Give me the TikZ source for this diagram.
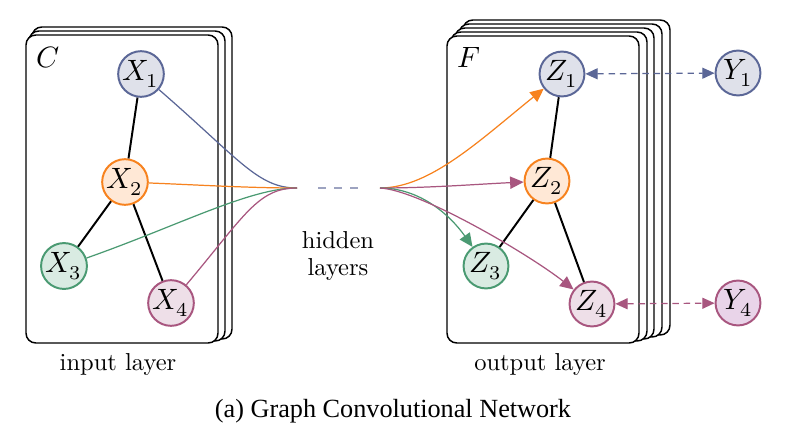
\documentclass[tikz,border=0pt]{standalone}
\usepackage{fontspec}
\usepackage{unicode-math}
\newfontfamily\capfont{Liberation Serif}
\usetikzlibrary{arrows.meta}
\definecolor{cblue}{HTML}{5B6797}
\definecolor{fblue}{HTML}{DFE1EA}
\definecolor{corange}{HTML}{F7821E}
\definecolor{forange}{HTML}{FFE8D6}
\definecolor{cgreen}{HTML}{4A9A72}
\definecolor{fgreen}{HTML}{D9EBE2}
\definecolor{cmag}{HTML}{A8567F}
\definecolor{fmag}{HTML}{EEDFE8}
\definecolor{fmagy}{HTML}{E9D4E9}
\definecolor{cdash}{HTML}{9DA3C0}
\begin{document}
\begin{tikzpicture}[x=0.408pt,y=-0.408pt,
  vnode/.style={circle,minimum size=18.3pt,inner sep=0pt,line width=0.8pt,font=\large},
  nblue/.style={vnode,draw=cblue,fill=fblue},
  norange/.style={vnode,draw=corange,fill=forange},
  ngreen/.style={vnode,draw=cgreen,fill=fgreen},
  nmag/.style={vnode,draw=cmag,fill=fmag},
  layerbox/.style={draw=black,fill=white,rounded corners=4pt,line width=0.6pt},
  graphedge/.style={line width=0.8pt,black},
  conn/.style={line width=0.5pt},
  tip/.style={-{Triangle[length=5.5pt,width=5pt]}},
  dtip/.style={{Triangle[length=5pt,width=4.5pt]}-{Triangle[length=5pt,width=4.5pt]},dash pattern=on 2.6pt off 2pt,line width=0.5pt},
  lbl/.style={font=\normalsize}
]
\useasboundingbox (0,0) rectangle (785,441);
% left stack
\draw[layerbox] (32,27) rectangle (232,339);
\draw[layerbox] (29,31) rectangle (225,341);
\draw[layerbox] (26,35) rectangle (218,343);
% right stack
\draw[layerbox] (463,20) rectangle (670,335);
\draw[layerbox] (459,24) rectangle (662,337);
\draw[layerbox] (455,28) rectangle (654,339);
\draw[layerbox] (451,32) rectangle (647,341);
\draw[layerbox] (447,36) rectangle (639,343);
\node[font=\large] (C) at (48,57) {$C$};
\node[font=\large] (F) at (469,57) {$F$};
% left nodes
\node[nblue] (X1) at (141,74) {$X_1$};
\node[norange] (X2) at (125,182) {$X_2$};
\node[ngreen] (X3) at (64,266) {$X_3$};
\node[nmag] (X4) at (171,303) {$X_4$};
\draw[graphedge] (X1) -- (X2);
\draw[graphedge] (X2) -- (X3);
\draw[graphedge] (X2) -- (X4);
% right nodes
\node[nblue] (Z1) at (562,74) {$Z_1$};
\node[norange] (Z2) at (547,181) {$Z_2$};
\node[ngreen] (Z3) at (486,266) {$Z_3$};
\node[nmag] (Z4) at (592,304) {$Z_4$};
\draw[graphedge] (Z1) -- (Z2);
\draw[graphedge] (Z2) -- (Z3);
\draw[graphedge] (Z2) -- (Z4);
\node[nblue] (Y1) at (738,73) {$Y_1$};
\node[vnode,draw=cmag,fill=fmagy] (Y4) at (738,303) {$Y_4$};
% hidden
\coordinate (hl) at (297,188);
\coordinate (hr) at (380,188);
\coordinate (dl) at (318,188);
\coordinate (dr) at (360,188);
\draw[cdash,line width=0.9pt,dash pattern=on 3.3pt off 3.3pt] (dl) -- (dr);
\draw[conn,cblue] (X1) .. controls (240,160) and (258,188) .. (hl);
\draw[conn,corange] (X2) .. controls (200,185) and (250,188) .. (hl);
\draw[conn,cgreen] (X3) .. controls (180,225) and (250,188) .. (hl);
\draw[conn,cmag] (X4) .. controls (245,215) and (258,188) .. (hl);
\draw[conn,corange,tip] (hr) .. controls (430,188) and (480,140) .. (Z1);
\draw[conn,cmag,tip] (hr) .. controls (430,188) and (480,184) .. (Z2);
\draw[conn,cgreen,tip] (hr) .. controls (420,188) and (450,215) .. (Z3);
\draw[conn,cmag,tip] (hr) .. controls (420,190) and (530,255) .. (Z4);
\draw[dtip,cblue] (Z1) -- (Y1);
\draw[dtip,cmag] (Z4) -- (Y4);
% labels
\node[lbl] (hid) at (338,240) {hidden};
\node[lbl] (lay) at (338,270) {layers};
\node[lbl] (inl) at (118,365) {input layer};
\node[lbl] (outl) at (540,365) {output layer};
\node[font=\capfont\fontsize{10.7}{13}\selectfont] (cap) at (393,411) {(a) Graph Convolutional Network};
\end{tikzpicture}
\end{document}
